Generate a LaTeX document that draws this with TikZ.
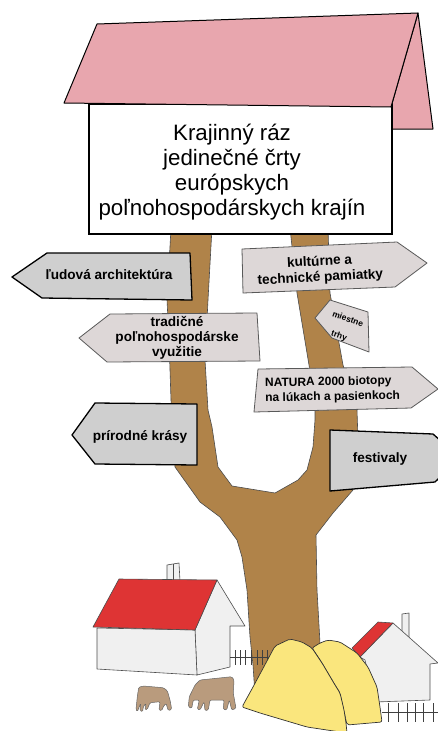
\documentclass[tikz,border=0pt]{standalone}
\usepackage{fontspec}
\setmainfont{Liberation Sans}
\definecolor{roofpink}{RGB}{232,166,174}
\definecolor{treebrown}{RGB}{176,131,73}
\definecolor{signgray}{RGB}{207,207,207}
\definecolor{signpale}{RGB}{221,215,215}
\definecolor{houseroof}{RGB}{222,52,52}
\definecolor{housewall}{RGB}{240,240,240}
\definecolor{hay}{RGB}{250,230,125}
\definecolor{cowbrown}{RGB}{185,155,125}
\begin{document}
\begin{tikzpicture}[x=1pt,y=-1pt,
  trunk/.style={fill=treebrown,draw=black!70,line width=0.6pt,line join=round},
  boldsign/.style={fill=signgray,draw=black,line width=1.3pt,line join=round},
  palesign/.style={fill=signpale,draw=black!65,line width=0.8pt,line join=round},
  signlabel/.style={font=\bfseries\fontsize{13.6}{16}\selectfont,align=center,inner sep=0pt},
  smalllabel/.style={font=\bfseries\fontsize{8.5}{10}\selectfont,inner sep=0pt,rotate=-20},
  housepart/.style={draw=black!70,line width=0.6pt,line join=round},
  stack/.style={fill=hay,draw=black!80,line width=0.7pt,line join=round,rounded corners=2pt},
  cow/.style={fill=cowbrown,draw=black!60,line width=0.5pt,rounded corners=1.2pt},
  fence/.style={draw=black!75,line width=0.9pt}]
\useasboundingbox (0,0) rectangle (438,731);
\begin{scope}
\clip (0,0) rectangle (438,731);

% trunk with two branches
\path[trunk] (171,228) -- (169,265) -- (167,300) -- (169,340) -- (171,400) -- (175,467)
  -- (200,502) -- (220,517) -- (237,540) -- (242,557) -- (247,590) -- (250,637)
  -- (253,665) -- (256,710) -- (322,710) -- (320,643) -- (317,590) -- (316,535)
  -- (333,513) -- (353,490) -- (357,460) -- (358,440) -- (357,410) -- (343,365)
  -- (330,293) -- (328,228) -- (290,228) -- (297,293) -- (309,365) -- (315,410)
  -- (315,420) -- (313,447) -- (307,470) -- (298,480) -- (275,493) -- (232,486)
  -- (218,467) -- (212,427) -- (208,410) -- (205,360) -- (208,300) -- (212,228) -- cycle;

% board with roof
\draw[fill=roofpink,line width=1pt,line join=round] (418,13) -- (433,129) -- (390,129) -- (391,107) -- cycle;
\draw[fill=white,line width=1.2pt] (89,104) rectangle (392,234);
\draw[fill=roofpink,line width=1pt,line join=round] (97,24) -- (418,13) -- (391,107) -- (64,103) -- cycle;
\node[font=\fontsize{22.3}{25}\selectfont,align=center,inner sep=0pt] (title) at (232,172)
  {Krajinný ráz\\jedinečné črty\\európskych\\poľnohospodárskych krajín};

% left signs
\draw[boldsign] (12,277) -- (47,253) -- (190,253) -- (192,300) -- (42,298) -- cycle;
\node[signlabel] (ludova) at (109,275) {ľudová architektúra};
\draw[palesign] (79,338) -- (110,314) -- (257,313) -- (260,361) -- (107,362) -- cycle;
\node[signlabel,font=\bfseries\fontsize{13.6}{15}\selectfont] (tradicne) at (177,338) {tradičné\\poľnohospodárske\\využitie};
\draw[boldsign] (72,435) -- (95,403) -- (197,404) -- (197,465) -- (95,464) -- cycle;
\node[signlabel] (prirodne) at (140,437) {prírodné krásy};

% right signs
\draw[palesign] (242,249) -- (397,242) -- (427,263) -- (395,287) -- (243,293) -- cycle;
\node[signlabel,rotate=3] (kulturne) at (320,270) {kultúrne a\\technické pamiatky};
\draw[palesign] (315,318) -- (330,300) -- (368,312) -- (369,352) -- (332,338) -- cycle;
\node[smalllabel] (miestne) at (348,319) {miestne};
\node[smalllabel] (trhy) at (339,336) {trhy};
\draw[palesign] (258,369) -- (412,367) -- (438,389) -- (411,408) -- (254,412) -- cycle;
\node[signlabel,font=\bfseries\fontsize{12}{15}\selectfont,align=left,anchor=west,rotate=1] (natura) at (265,391) {NATURA 2000 biotopy\\na lúkach a pasienkoch};
\draw[boldsign] (330,430) -- (433,434) -- (460,458) -- (435,482) -- (330,491) -- cycle;
\node[signlabel] (festivaly) at (380,459) {festivaly};

% left house
\draw[housepart,fill=housewall] (167,581) -- (167,565) -- (179,563) -- (180,581) -- cycle;
\draw[housepart] (173,564) -- (173,580);
\draw[housepart,fill=housewall] (195,630) -- (217,580) -- (245,626) -- (230,626) -- (230,667) -- (197,675) -- cycle;
\draw[housepart,fill=housewall] (97,628) -- (195,630) -- (197,675) -- (97,669) -- cycle;
\draw[housepart,fill=houseroof] (93,627) -- (119,579) -- (217,580) -- (195,630) -- cycle;

% fence by the left house
\draw[fence] (230,657) -- (274,657);
\foreach \fx in {235,240,245,251,257,262,267}
  \draw[fence] (\fx,650) -- (\fx,665);

% right house
\draw[housepart,fill=housewall] (402,633) -- (402,614) -- (409,613) -- (409,639) -- cycle;
\draw[housepart,fill=housewall] (360,657) -- (393,623) -- (438,663) -- (430,664) -- (430,700) -- (375,702) -- (365,660) -- cycle;
\draw[housepart,fill=houseroof] (352,648) -- (378,622) -- (393,623) -- (360,657) -- cycle;

% fence by the right house
\draw[fence] (382,712) -- (440,712);
\foreach \fx in {388,398,407,415,423,433}
  \draw[fence] (\fx,703) -- (\fx,722);

% haystacks
\draw[stack] (312,648) -- (320,643) -- (328,640) -- (340,642) -- (357,653) -- (368,667)
  -- (377,687) -- (380,707) -- (382,722) -- (347,725) -- (340,693) -- (335,685) -- (322,663) -- cycle;
\draw[stack] (242,707) -- (253,687) -- (275,646) -- (290,639) -- (302,642) -- (312,648)
  -- (322,663) -- (335,685) -- (340,693) -- (344,710) -- (346,723) -- (347,733) -- (307,727) -- (260,713) -- cycle;

% grazing cows
\draw[cow] (138.7,687.3) -- (143.3,686) -- (163.3,687.7) -- (167.3,690.7) -- (170,700) -- (171.7,709.3)
  -- (168.3,710.7) -- (166,703.3) -- (163.3,706.7) -- (161.7,710.7) -- (159,710) -- (160,701.7)
  -- (150,702.7) -- (147.3,709.3) -- (145,710) -- (146,703.3) -- (143.3,706.7) -- (142.7,711.7)
  -- (140,710.7) -- (140.7,703.3) -- (137.3,711.7) -- (136,709.3) -- (137.3,696.7) -- cycle;
\draw[cow] (195,685) -- (200,680) -- (231.7,676.7) -- (234,680) -- (233.3,693.3) -- (236,708.3)
  -- (231.7,710) -- (229.3,700) -- (226.7,710) -- (223.3,709.3) -- (224,700) -- (210,700)
  -- (208.3,710) -- (205,710.7) -- (204,701.7) -- (201.7,706.7) -- (200,710) -- (197.3,709.3)
  -- (199.3,700) -- (193.3,700) -- (191.7,708.3) -- (188.3,706.7) -- (189.3,696.7) -- cycle;
\end{scope}
\end{tikzpicture}
\end{document}
